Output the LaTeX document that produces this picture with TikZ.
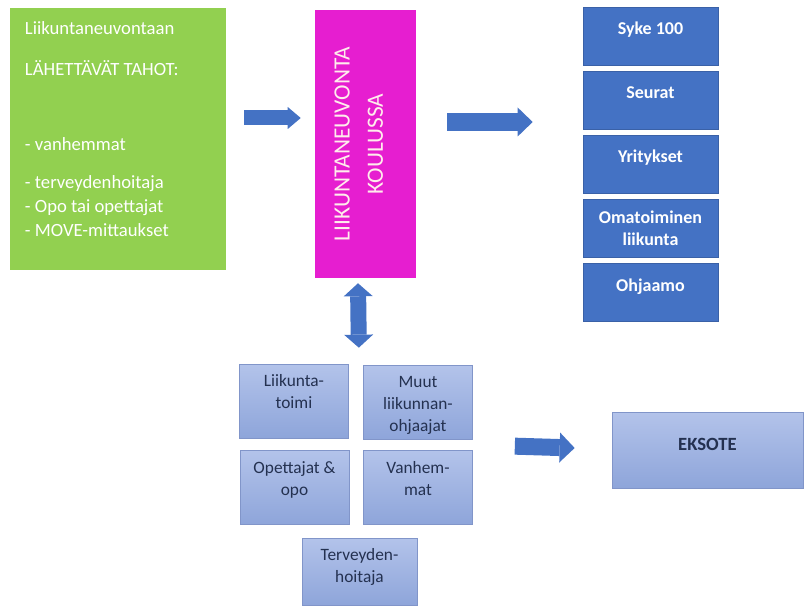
\documentclass[tikz,border=0pt]{standalone}
\usepackage{fontspec}
\setmainfont{Carlito}
\usetikzlibrary{arrows.meta}
\definecolor{leafgreen}{HTML}{92D050}
\definecolor{pinkbox}{HTML}{E61ED0}
\definecolor{officeblue}{HTML}{4472C4}
\definecolor{paletop}{HTML}{B3C3EA}
\definecolor{palebot}{HTML}{8EA5DA}
\definecolor{paleedge}{HTML}{8195C9}
\definecolor{inkblue}{HTML}{243150}
\tikzset{greenbox/.style={fill=leafgreen, minimum width=162pt, minimum height=196.5pt, inner sep=0pt},
  greentext/.style={anchor=north west, inner sep=0pt, align=left, text=white, font=\fontsize{14}{18}\selectfont},
  pinkbox/.style={fill=pinkbox, minimum width=75.75pt, minimum height=201pt, inner sep=0pt},
  pinktext/.style={xshift=-5pt, rotate=90, inner sep=0pt, align=center, text=pink!30!white, font=\fontsize{17.5}{25}\selectfont},
  bluebox/.style={fill=officeblue, draw=officeblue!85!black, line width=0.5pt, minimum width=101.25pt, minimum height=43.5pt, inner sep=0pt, align=center, text=white, font=\bfseries\fontsize{13.5}{16.5}\selectfont},
  oneline/.style={text height=10pt, text depth=11.8pt},
  lowbox/.style={draw=paleedge, line width=0.5pt, top color=paletop, bottom color=palebot, minimum width=81.75pt, minimum height=55.5pt, inner sep=0pt},
  lowtext/.style={anchor=north, yshift=-8pt, inner sep=0pt, align=center, text=inkblue, font=\fontsize{13}{16.5}\selectfont},
  eksbox/.style={lowbox, minimum width=143.25pt, minimum height=57pt, text=inkblue, font=\bfseries\fontsize{14}{17}\selectfont, text height=10pt, text depth=10pt},
  fatarrow/.style n args={3}{draw=officeblue, line width=#1, -{Triangle[length=#3, width=#2, line width'=0pt]}},
  fatdouble/.style n args={3}{draw=officeblue, line width=#1, {Triangle[length=#3, width=#2, line width'=0pt]}-{Triangle[length=#3, width=#2, line width'=0pt]}}}

\begin{document}
\begin{tikzpicture}[x=0.75pt, y=-0.75pt]
    \useasboundingbox (0,0) rectangle (804,606);

    % who sends
    \node (green) at (118,139) [greenbox] {};
    \node (greentxt) at ([shift={(15,13.6)}]green.north west) [greentext] {Liikuntaneuvontaan\\[12.75pt]
        LÄHETTÄVÄT TAHOT:\\[38.25pt]
        - vanhemmat\\[10.5pt]
        - terveydenhoitaja\\
        - Opo tai opettajat\\
        - MOVE-mittaukset};

    \node (koulu) at (365.5,144) [pinkbox, label={[pinktext]center:LIIKUNTANEUVONTA\\KOULUSSA}] {};

    % where to
    \node (syke) at (650.5,36) [bluebox, oneline] {Syke 100};
    \node (seurat) at (650.5,100) [bluebox, oneline] {Seurat};
    \node (yrit) at (650.5,164) [bluebox, oneline] {Yritykset};
    \node (oma) at (650.5,228) [bluebox] {Omatoiminen\\liikunta};
    \node (ohj) at (650.5,292.5) [bluebox, oneline] {Ohjaamo};

    % partners below
    \node (liik) at (294,401) [lowbox, label={[lowtext]north:Liikunta-\\toimi}] {};
    \node (muut) at (418,402.5) [lowbox, label={[lowtext]north:Muut\\liikunnan-\\ohjaajat}] {};
    \node (opett) at (294.5,487.5) [lowbox, label={[lowtext]north:Opettajat \&\\opo}] {};
    \node (vanh) at (418,487.5) [lowbox, label={[lowtext]north:Vanhem-\\mat}] {};
    \node (terv) at (359.5,571.5) [lowbox, minimum width=86.25pt, minimum height=50.25pt, label={[lowtext]north:Terveyden-\\hoitaja}] {};

    \node (eksote) at (707.5,450) [eksbox] {EKSOTE};

    \draw[fatarrow={11.25pt}{16.5pt}{9.75pt}] ([shift={(18,-21)}]green.east) -- ([shift={(-14,-26)}]koulu.west);
    \draw[fatarrow={13.5pt}{21.75pt}{11.25pt}] ([shift={(31,-22)}]koulu.east) -- ([shift={(-50,-42)}]yrit.west);
    \draw[fatdouble={12pt}{21.75pt}{9.75pt}] ([shift={(-7.5,5)}]koulu.south) -- ([shift={(10,-16)}]liik.north east);
    \draw[fatarrow={12.75pt}{22.5pt}{11.25pt}] ([shift={(42,-4)}]vanh.north east) -- ([shift={(-37,-2)}]eksote.west);
\end{tikzpicture}
\end{document}
